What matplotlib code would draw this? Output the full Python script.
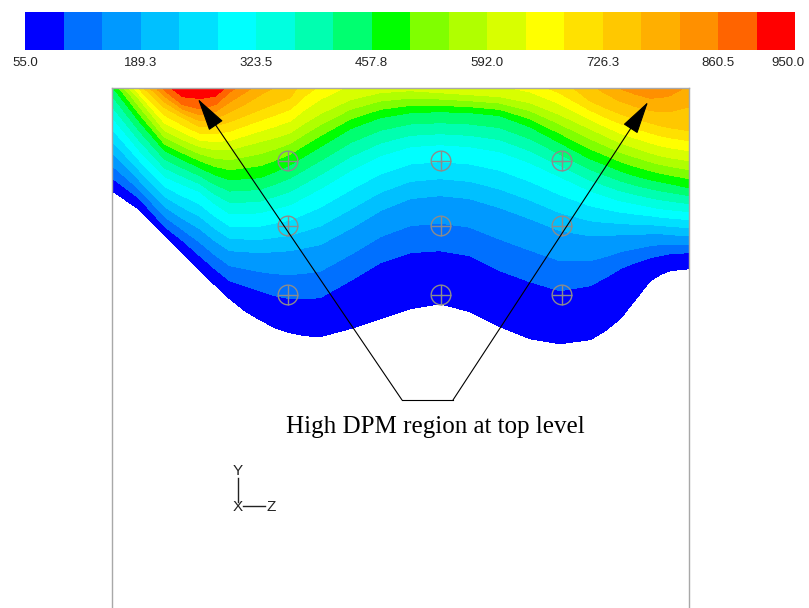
# Fluent-style DPM contour on a vertical section, with annotation
import numpy as np
import matplotlib
matplotlib.use('Agg')
import matplotlib.pyplot as plt
from matplotlib.colors import ListedColormap, BoundaryNorm

plt.rcParams['font.family'] = ['Liberation Sans', 'DejaVu Sans']

# ---------------------------------------------------------------------------
# colour scale (20 bands between 55 and 950)
level_min, level_max, n_bands = 55.0, 950.0, 20
band_colors = ['#0000ff', '#0070ff', '#0099ff', '#00c0ff', '#00e0ff',
               '#00ffff', '#00ffe0', '#00ffb0', '#00ff70', '#00ff00',
               '#80ff00', '#b0ff00', '#d8ff00', '#ffff00', '#ffe100',
               '#ffc800', '#ffaf00', '#ff9000', '#ff6400', '#ff0000']
tick_values = [55.0, 189.25, 323.5, 457.75, 592.0, 726.25, 860.5, 950.0]
tick_labels = ['55.0', '189.3', '323.5', '457.8', '592.0', '726.3',
               '860.5', '950.0']

# ---------------------------------------------------------------------------
# section data: z position of the sampled columns and, for each column,
# the y position of some iso-lines (read off the picture, y grows downward)
z_cols = [112, 140, 165, 183, 200, 215, 230, 245, 260, 275, 290, 305, 320,
          350, 380, 410, 440, 470, 500, 530, 560, 590, 605, 620, 635, 650,
          660, 670, 689]
y_top = 88
key_levels = [55.0, 99.75, 189.25, 323.5, 457.75, 592.0, 726.25, 860.5]
y_055 = [190, 209, 235, 252, 270, 284, 298, 310, 319, 327, 332, 335, 336,
         328, 318, 308, 303, 311, 326, 338, 343, 339, 330, 318, 299, 280,
         274, 270, 268]
y_100 = [177, 198, 226, 240, 255, 268, 280, 285, 290, 295, 298, 298, 297,
         280, 262, 252, 250, 255, 270, 281, 290, 285, 277, 268, 262, 257,
         255, 253, 252]
y_189 = [152, 180, 206, 218, 228, 240, 250, 251, 252, 251, 250, 247, 244,
         228, 210, 198, 195, 198, 207, 218, 230, 235, 235, 234, 234, 233,
         233, 234, 235]
y_324 = [116, 150, 176, 184, 191, 203, 213, 213, 212, 208, 204, 196, 188,
         170, 155, 146, 144, 146, 151, 162, 176, 190, 195, 200, 203, 206,
         208, 209, 211]
y_458 = [88, 121, 150, 159, 167, 174, 179, 178, 177, 171, 164, 155, 146,
         128, 117, 112, 111, 112, 115, 126, 142, 158, 164, 170, 175, 179,
         181, 183, 187]
y_592 = [88, 99, 130, 139, 146, 149, 149, 145, 141, 137, 132, 122, 113,
         99, 92, 90, 92, 94, 96, 102, 114, 128, 135, 142, 147, 152,
         155, 157, 160]
y_726 = [88, 88, 107, 117, 126, 125, 121, 115, 109, 103, 97, 88, 88,
         88, 88, 88, 88, 88, 88, 88, 88, 100, 107, 113, 118, 122,
         125, 127, 130]
y_860 = [88, 88, 90, 104, 108, 104, 91, 88, 88, 88, 88, 88, 88,
         88, 88, 88, 88, 88, 88, 88, 88, 88, 88, 88, 88, 88,
         88, 88, 88]
# value on the top edge of the section
top_val = [440, 690, 875, 950, 948, 945, 875, 830, 790, 765, 740, 705, 670,
           625, 600, 595, 600, 610, 625, 650, 700, 755, 785, 815, 835, 850,
           845, 835, 805]

# sampling points (circle-cross markers)
marker_z = [288, 441, 562, 288, 441, 562, 288, 441, 562]
marker_y = [161, 161, 161, 226, 226, 226, 295, 295, 295]

# annotation
note_text = 'High DPM region at top level'
arrow_tails = [(402, 400), (453, 400)]
arrow_tips = [(198, 99), (648, 102)]

# ---------------------------------------------------------------------------
# build curvilinear grid: one row per iso-line, last row = top edge
top_val = np.array(top_val, dtype=float)
Y = np.vstack([y_055, y_100, y_189, y_324, y_458, y_592, y_726, y_860,
               np.full(len(z_cols), y_top)]).astype(float)
Z = np.vstack([np.minimum(lv, top_val) for lv in key_levels] + [top_val])
X = np.tile(np.array(z_cols, dtype=float), (Y.shape[0], 1))

levels = np.linspace(level_min, level_max, n_bands + 1)
cmap = ListedColormap(band_colors)
norm = BoundaryNorm(levels, cmap.N)

W, H = 809, 608
fig = plt.figure(figsize=(W / 100, H / 100), dpi=100)

# main section window (pixel-like coordinates)
ax = fig.add_axes([112 / W, 0, 577 / W, (H - y_top) / H])
cf = ax.contourf(X, Y, Z, levels=levels, cmap=cmap, norm=norm)
cf.set_edgecolor('face')
ax.set_xlim(112, 689)
ax.set_ylim(H, y_top)
ax.set_xticks([])
ax.set_yticks([])
for side in ['left', 'top', 'right']:
    ax.spines[side].set_color('#a8a8a8')
    ax.spines[side].set_linewidth(1.0)
ax.spines['bottom'].set_visible(False)

# sampling points
ax.scatter(marker_z, marker_y, s=200, facecolors='none',
           edgecolors='#8c8c8c', linewidths=1.0, zorder=3)
ax.scatter(marker_z, marker_y, s=200, marker='+', color='#8c8c8c',
           linewidths=1.0, zorder=3)

# arrows to the high DPM zones
for tail, tip in zip(arrow_tails, arrow_tips):
    ax.annotate('', xy=tip, xytext=tail,
                arrowprops=dict(arrowstyle='-|>,head_length=1.05,head_width=0.27',
                                mutation_scale=20, color='black', lw=0.8,
                                shrinkA=0, shrinkB=0), zorder=4)
ax.plot([arrow_tails[0][0], arrow_tails[1][0]],
        [arrow_tails[0][1], arrow_tails[1][1]], color='black', lw=0.8)
ax.text(435, 433, note_text, family=['Liberation Serif', 'DejaVu Serif'],
        fontsize=18, ha='center', va='baseline', color='black')

# axis triad
ax.plot([238, 238], [478, 502], color='#222222', lw=1.0)
ax.plot([243, 265], [506, 506], color='#222222', lw=1.0)
ax.text(238, 471, 'Y', fontsize=11, ha='center', va='center', color='#222222')
ax.text(238, 507, 'X', fontsize=11, ha='center', va='center', color='#222222')
ax.text(271, 507, 'Z', fontsize=11, ha='center', va='center', color='#222222')

# colour bar on top
cax = fig.add_axes([25 / W, 1 - 50 / H, 770 / W, 38 / H])
cb = fig.colorbar(cf, cax=cax, orientation='horizontal', ticks=tick_values)
# last label is pulled inside the figure edge, like in the original
cb.ax.set_xticklabels(tick_labels[:-1] + [''])
cb.ax.annotate(tick_labels[-1], xy=(tick_values[-1], 0),
               xycoords=('data', 'axes fraction'), xytext=(10, -7),
               textcoords='offset pixels', ha='right', va='top',
               fontsize=9.5, color='#222222', annotation_clip=False)
cb.outline.set_visible(False)
cb.ax.minorticks_off()
cb.ax.tick_params(which='both', length=0, pad=5, labelsize=9.5,
                  labelcolor='#222222')

fig.savefig('out.png', dpi=100)
